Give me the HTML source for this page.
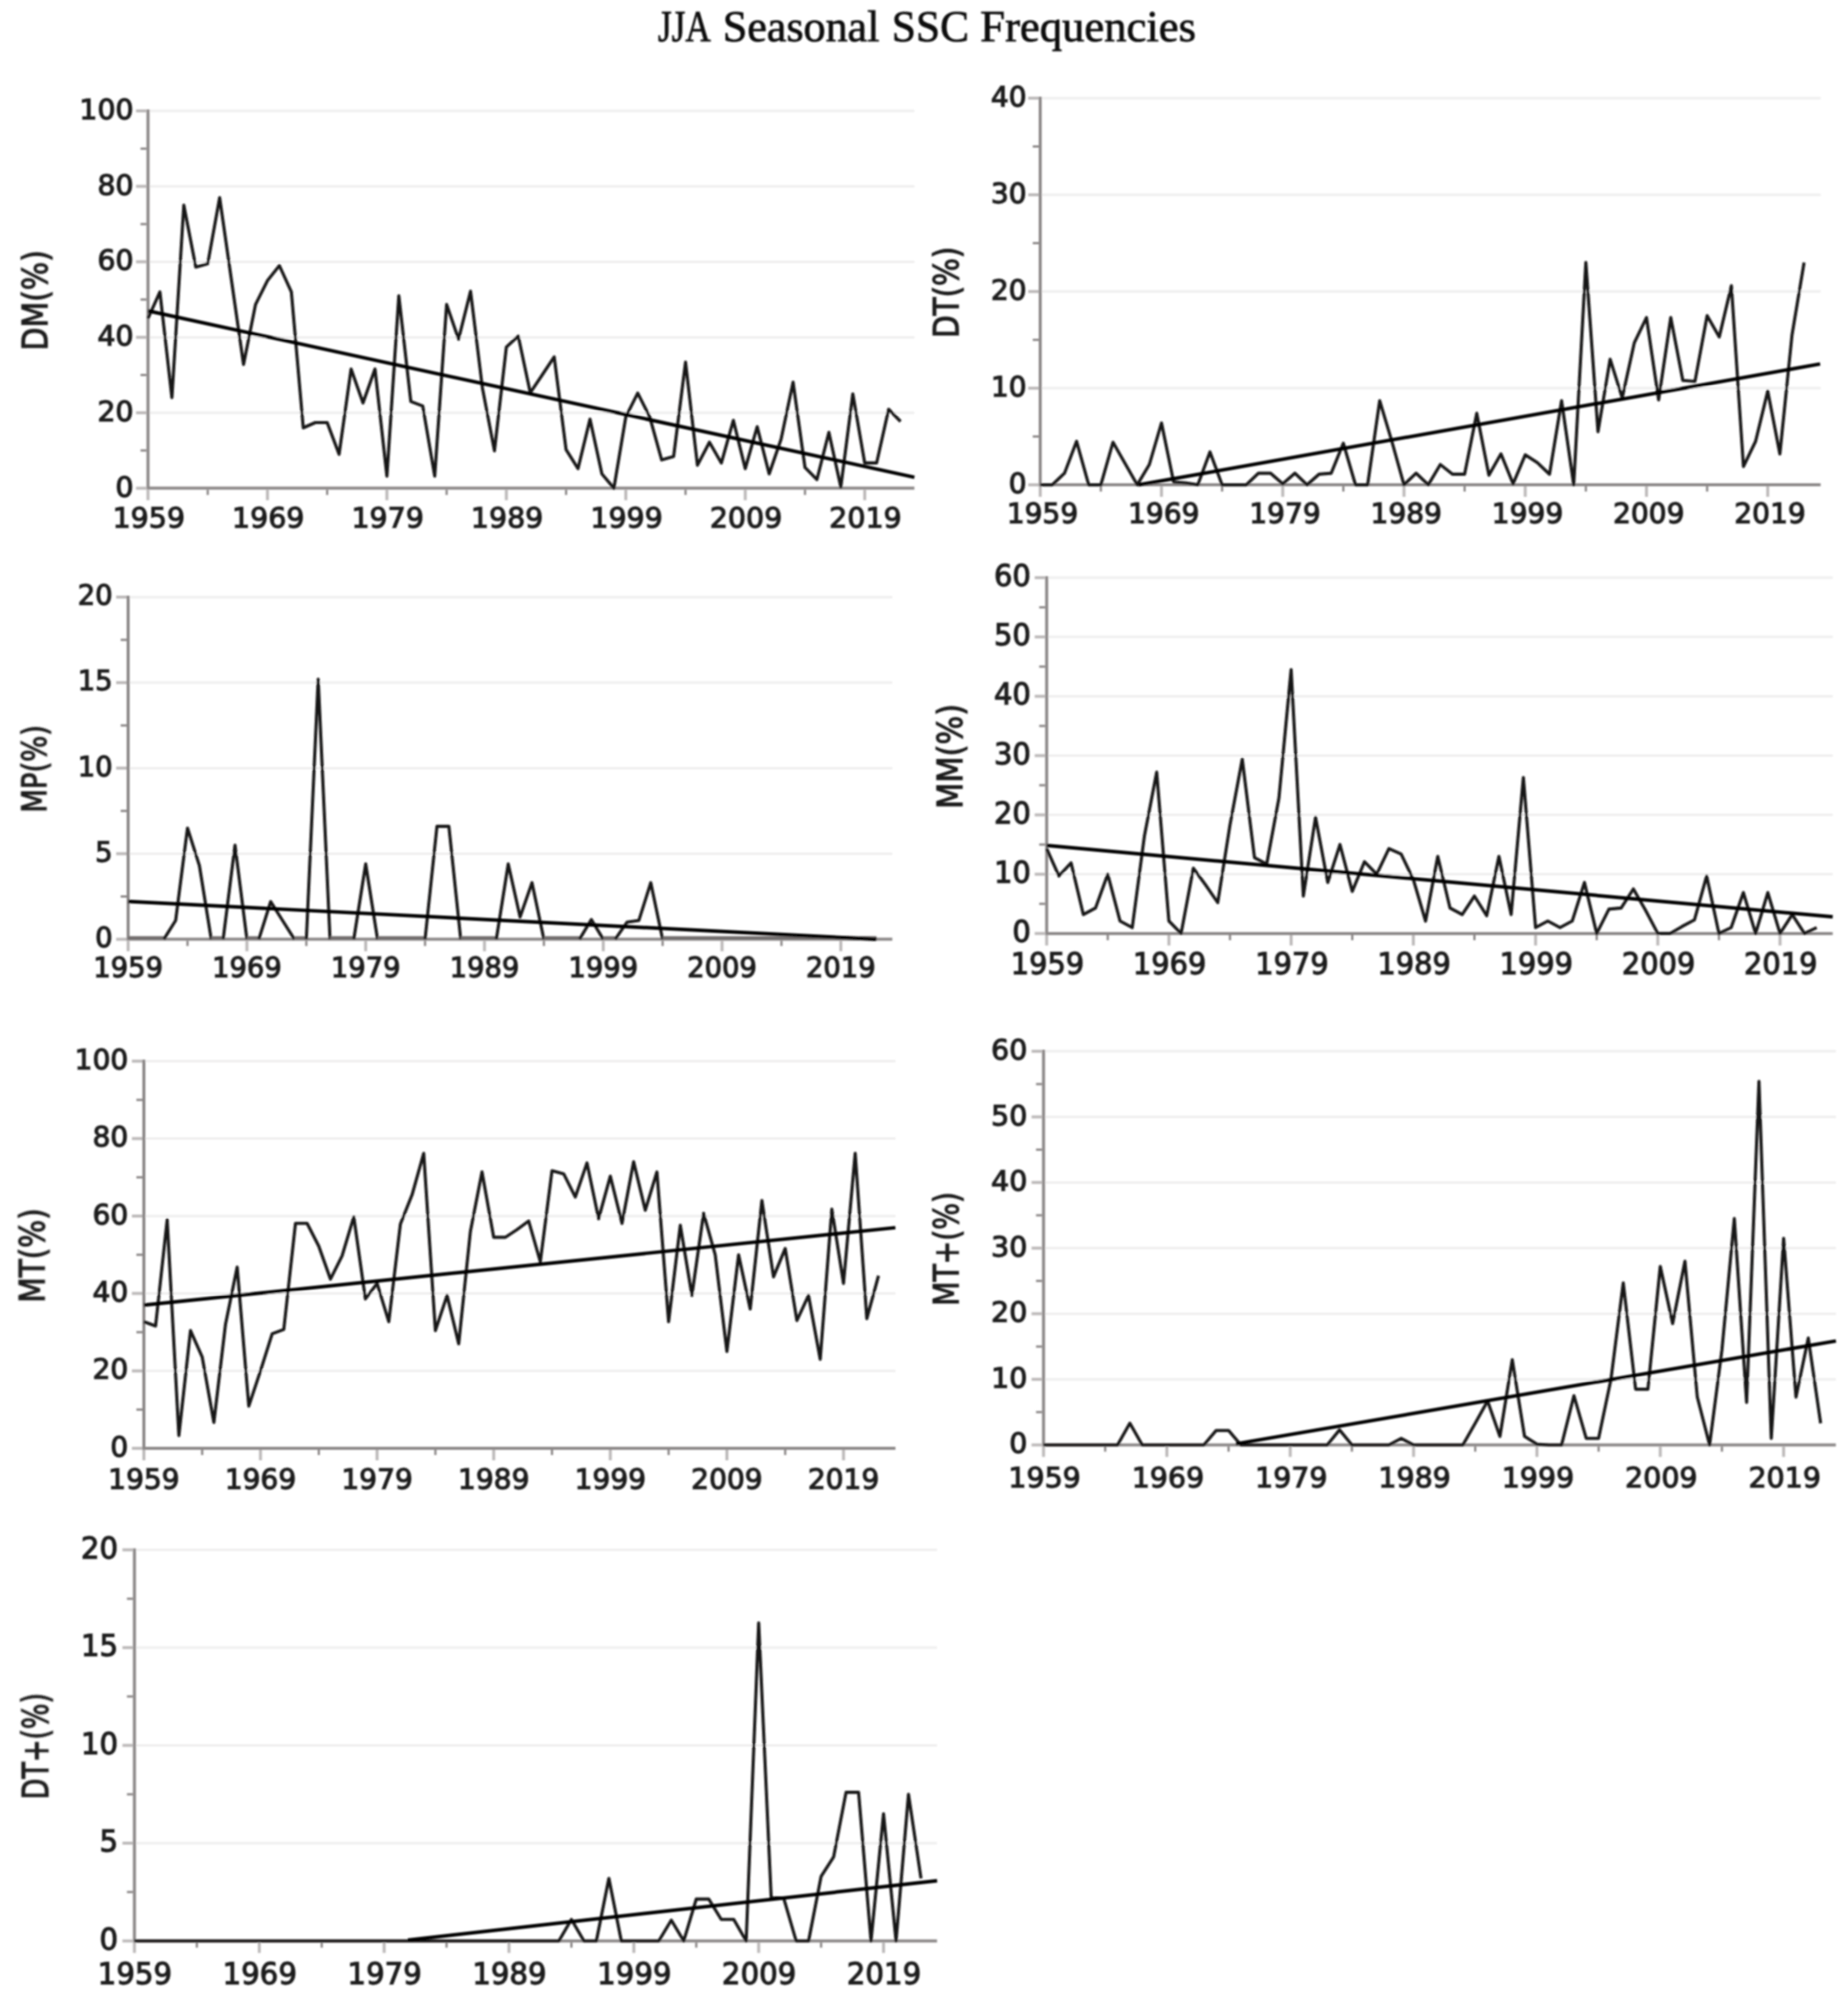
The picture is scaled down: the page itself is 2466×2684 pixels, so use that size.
<!DOCTYPE html>
<html><head><meta charset="utf-8"><title>JJA Seasonal SSC Frequencies</title>
<style>
html,body{margin:0;padding:0;background:#fff;}
body{width:2466px;height:2684px;overflow:hidden;}
svg{display:block;}
.t{font-family:"DejaVu Sans","Liberation Sans",sans-serif;font-size:38px;fill:#1c1c1c;stroke:#1c1c1c;stroke-width:1.4px;}
.ttl{font-family:"Liberation Serif","DejaVu Serif",serif;font-size:60px;fill:#111;stroke:#111;stroke-width:1px;}
.ax{stroke:#8b8787;stroke-width:4;fill:none;}
.tk{stroke:#8b8787;stroke-width:3;fill:none;}
.tM{stroke:#bdbaba;stroke-width:4;fill:none;}
.g{stroke:#eeeded;stroke-width:3;fill:none;}
.d{stroke:#141212;stroke-width:4.1;fill:none;stroke-linejoin:round;}
.tr{stroke:#050505;stroke-width:4.7;fill:none;}
</style></head><body>
<svg width="2466" height="2684" viewBox="0 0 2466 2684">
<defs><filter id="soft" x="0" y="0" width="2466" height="2684" filterUnits="userSpaceOnUse"><feGaussianBlur stdDeviation="1.1"/></filter></defs>
<rect width="2466" height="2684" fill="#fff"/>
<g filter="url(#soft)">
<text class="ttl" y="54.5"><tspan x="878" textLength="68" lengthAdjust="spacingAndGlyphs">JJA</tspan> <tspan x="964.5" textLength="209" lengthAdjust="spacingAndGlyphs">Seasonal</tspan> <tspan x="1190" textLength="103" lengthAdjust="spacingAndGlyphs">SSC</tspan> <tspan x="1308" textLength="288" lengthAdjust="spacingAndGlyphs">Frequencies</tspan></text>

<g><!-- DM(%) -->
<line class="g" x1="199.5" y1="550.9" x2="1220.2" y2="550.9"/>
<line class="g" x1="199.5" y1="450.2" x2="1220.2" y2="450.2"/>
<line class="g" x1="199.5" y1="349.4" x2="1220.2" y2="349.4"/>
<line class="g" x1="199.5" y1="248.7" x2="1220.2" y2="248.7"/>
<line class="g" x1="199.5" y1="148.0" x2="1220.2" y2="148.0"/>
<path class="ax" d="M197.5 146.0V651.6H1220.2"/>
<line class="tM" x1="181.5" y1="651.6" x2="195.5" y2="651.6"/>
<text class="t" style="font-size:38px" x="178.3" y="662.5" text-anchor="end">0</text>
<line class="tk" x1="187.5" y1="601.2" x2="195.5" y2="601.2"/>
<line class="tM" x1="181.5" y1="550.9" x2="195.5" y2="550.9"/>
<text class="t" style="font-size:38px" x="178.3" y="561.7" text-anchor="end">20</text>
<line class="tk" x1="187.5" y1="500.5" x2="195.5" y2="500.5"/>
<line class="tM" x1="181.5" y1="450.2" x2="195.5" y2="450.2"/>
<text class="t" style="font-size:38px" x="178.3" y="461.0" text-anchor="end">40</text>
<line class="tk" x1="187.5" y1="399.8" x2="195.5" y2="399.8"/>
<line class="tM" x1="181.5" y1="349.4" x2="195.5" y2="349.4"/>
<text class="t" style="font-size:38px" x="178.3" y="360.3" text-anchor="end">60</text>
<line class="tk" x1="187.5" y1="299.1" x2="195.5" y2="299.1"/>
<line class="tM" x1="181.5" y1="248.7" x2="195.5" y2="248.7"/>
<text class="t" style="font-size:38px" x="178.3" y="259.6" text-anchor="end">80</text>
<line class="tk" x1="187.5" y1="198.4" x2="195.5" y2="198.4"/>
<line class="tM" x1="181.5" y1="148.0" x2="195.5" y2="148.0"/>
<text class="t" style="font-size:38px" x="178.3" y="158.9" text-anchor="end">100</text>
<line class="tM" x1="197.5" y1="653.6" x2="197.5" y2="667.6"/>
<text class="t" style="font-size:38px" x="198.5" y="704.2" text-anchor="middle">1959</text>
<line class="tk" x1="277.2" y1="653.6" x2="277.2" y2="660.6"/>
<line class="tM" x1="356.9" y1="653.6" x2="356.9" y2="667.6"/>
<text class="t" style="font-size:38px" x="357.9" y="704.2" text-anchor="middle">1969</text>
<line class="tk" x1="436.6" y1="653.6" x2="436.6" y2="660.6"/>
<line class="tM" x1="516.3" y1="653.6" x2="516.3" y2="667.6"/>
<text class="t" style="font-size:38px" x="517.3" y="704.2" text-anchor="middle">1979</text>
<line class="tk" x1="596.0" y1="653.6" x2="596.0" y2="660.6"/>
<line class="tM" x1="675.7" y1="653.6" x2="675.7" y2="667.6"/>
<text class="t" style="font-size:38px" x="676.7" y="704.2" text-anchor="middle">1989</text>
<line class="tk" x1="755.4" y1="653.6" x2="755.4" y2="660.6"/>
<line class="tM" x1="835.1" y1="653.6" x2="835.1" y2="667.6"/>
<text class="t" style="font-size:38px" x="836.1" y="704.2" text-anchor="middle">1999</text>
<line class="tk" x1="914.8" y1="653.6" x2="914.8" y2="660.6"/>
<line class="tM" x1="994.5" y1="653.6" x2="994.5" y2="667.6"/>
<text class="t" style="font-size:38px" x="995.5" y="704.2" text-anchor="middle">2009</text>
<line class="tk" x1="1074.2" y1="653.6" x2="1074.2" y2="660.6"/>
<line class="tM" x1="1153.9" y1="653.6" x2="1153.9" y2="667.6"/>
<text class="t" style="font-size:38px" x="1154.9" y="704.2" text-anchor="middle">2019</text>
<text class="t" style="font-size:46.0px" transform="translate(63.1 400.8) rotate(-90)" text-anchor="middle" textLength="134" lengthAdjust="spacingAndGlyphs">DM(%)</text>
<polyline class="d" points="197.5,425.0 213.4,389.7 229.4,530.7 245.3,273.9 261.3,356.5 277.2,352.0 293.1,263.8 309.1,375.6 325.0,486.4 341.0,406.3 356.9,374.6 372.8,354.5 388.8,389.7 404.7,571.0 420.7,564.0 436.6,564.0 452.5,606.3 468.5,492.5 484.4,537.8 500.4,492.5 516.3,635.5 532.2,394.8 548.2,535.8 564.1,541.8 580.1,635.5 596.0,406.3 611.9,452.7 627.9,388.7 643.8,518.1 659.8,601.7 675.7,463.3 691.6,448.6 707.6,524.2 723.5,500.5 739.5,476.3 755.4,600.2 771.3,625.4 787.3,559.4 803.2,632.5 819.2,651.6 835.1,556.4 851.0,524.7 867.0,556.4 882.9,613.8 898.9,609.3 914.8,483.4 930.7,620.9 946.7,590.2 962.6,617.9 978.6,561.0 994.5,625.4 1010.4,569.5 1026.4,632.5 1042.3,586.1 1058.3,510.1 1074.2,623.9 1090.1,640.0 1106.1,577.1 1122.0,650.1 1138.0,525.7 1153.9,617.9 1169.8,617.9 1185.8,546.3 1201.7,562.5"/>
<line class="tr" x1="197.5" y1="414.9" x2="1220.2" y2="637.0"/>
</g>
<g><!-- DT(%) -->
<line class="g" x1="1390.1" y1="518.1" x2="2429.5" y2="518.1"/>
<line class="g" x1="1390.1" y1="389.1" x2="2429.5" y2="389.1"/>
<line class="g" x1="1390.1" y1="260.0" x2="2429.5" y2="260.0"/>
<line class="g" x1="1390.1" y1="131.0" x2="2429.5" y2="131.0"/>
<path class="ax" d="M1388.1 129.0V647.1H2429.5"/>
<line class="tM" x1="1372.1" y1="647.1" x2="1386.1" y2="647.1"/>
<text class="t" style="font-size:37.5px" x="1369.9" y="657.8" text-anchor="end">0</text>
<line class="tk" x1="1378.1" y1="582.6" x2="1386.1" y2="582.6"/>
<line class="tM" x1="1372.1" y1="518.1" x2="1386.1" y2="518.1"/>
<text class="t" style="font-size:37.5px" x="1369.9" y="528.7" text-anchor="end">10</text>
<line class="tk" x1="1378.1" y1="453.6" x2="1386.1" y2="453.6"/>
<line class="tM" x1="1372.1" y1="389.1" x2="1386.1" y2="389.1"/>
<text class="t" style="font-size:37.5px" x="1369.9" y="399.7" text-anchor="end">20</text>
<line class="tk" x1="1378.1" y1="324.5" x2="1386.1" y2="324.5"/>
<line class="tM" x1="1372.1" y1="260.0" x2="1386.1" y2="260.0"/>
<text class="t" style="font-size:37.5px" x="1369.9" y="270.7" text-anchor="end">30</text>
<line class="tk" x1="1378.1" y1="195.5" x2="1386.1" y2="195.5"/>
<line class="tM" x1="1372.1" y1="131.0" x2="1386.1" y2="131.0"/>
<text class="t" style="font-size:37.5px" x="1369.9" y="141.7" text-anchor="end">40</text>
<line class="tM" x1="1388.1" y1="649.1" x2="1388.1" y2="663.1"/>
<text class="t" style="font-size:37.5px" x="1391.1" y="698.1" text-anchor="middle">1959</text>
<line class="tk" x1="1469.0" y1="649.1" x2="1469.0" y2="656.1"/>
<line class="tM" x1="1549.9" y1="649.1" x2="1549.9" y2="663.1"/>
<text class="t" style="font-size:37.5px" x="1552.9" y="698.1" text-anchor="middle">1969</text>
<line class="tk" x1="1630.8" y1="649.1" x2="1630.8" y2="656.1"/>
<line class="tM" x1="1711.7" y1="649.1" x2="1711.7" y2="663.1"/>
<text class="t" style="font-size:37.5px" x="1714.7" y="698.1" text-anchor="middle">1979</text>
<line class="tk" x1="1792.6" y1="649.1" x2="1792.6" y2="656.1"/>
<line class="tM" x1="1873.5" y1="649.1" x2="1873.5" y2="663.1"/>
<text class="t" style="font-size:37.5px" x="1876.5" y="698.1" text-anchor="middle">1989</text>
<line class="tk" x1="1954.4" y1="649.1" x2="1954.4" y2="656.1"/>
<line class="tM" x1="2035.3" y1="649.1" x2="2035.3" y2="663.1"/>
<text class="t" style="font-size:37.5px" x="2038.3" y="698.1" text-anchor="middle">1999</text>
<line class="tk" x1="2116.2" y1="649.1" x2="2116.2" y2="656.1"/>
<line class="tM" x1="2197.1" y1="649.1" x2="2197.1" y2="663.1"/>
<text class="t" style="font-size:37.5px" x="2200.1" y="698.1" text-anchor="middle">2009</text>
<line class="tk" x1="2278.0" y1="649.1" x2="2278.0" y2="656.1"/>
<line class="tM" x1="2358.9" y1="649.1" x2="2358.9" y2="663.1"/>
<text class="t" style="font-size:37.5px" x="2361.9" y="698.1" text-anchor="middle">2019</text>
<text class="t" style="font-size:45.4px" transform="translate(1279.2 390.1) rotate(-90)" text-anchor="middle" textLength="122" lengthAdjust="spacingAndGlyphs">DT(%)</text>
<polyline class="d" points="1388.1,647.1 1404.3,647.1 1420.5,631.6 1436.6,589.0 1452.8,647.1 1469.0,647.1 1485.2,590.3 1501.4,618.7 1517.5,647.1 1533.7,620.0 1549.9,564.5 1566.1,643.2 1582.3,644.5 1598.4,647.1 1614.6,603.2 1630.8,647.1 1647.0,647.1 1663.2,647.1 1679.3,631.6 1695.5,631.6 1711.7,645.8 1727.9,631.6 1744.1,647.1 1760.2,632.9 1776.4,631.6 1792.6,591.6 1808.8,647.1 1825.0,647.1 1841.1,534.8 1857.3,589.0 1873.5,647.1 1889.7,631.6 1905.9,647.1 1922.0,620.0 1938.2,632.9 1954.4,632.9 1970.6,551.6 1986.8,634.2 2002.9,605.8 2019.1,645.8 2035.3,607.1 2051.5,617.4 2067.7,632.9 2083.8,534.8 2100.0,647.1 2116.2,350.3 2132.4,576.1 2148.6,479.4 2164.7,531.0 2180.9,457.4 2197.1,423.9 2213.3,533.6 2229.5,423.9 2245.6,507.8 2261.8,509.0 2278.0,421.3 2294.2,449.7 2310.4,381.3 2326.5,622.6 2342.7,589.0 2358.9,521.9 2375.1,605.8 2391.3,447.1 2407.4,350.3"/>
<line class="tr" x1="1519.2" y1="647.1" x2="2428.8" y2="485.8"/>
</g>
<g><!-- MP(%) -->
<line class="g" x1="173.0" y1="1139.4" x2="1190.7" y2="1139.4"/>
<line class="g" x1="173.0" y1="1025.2" x2="1190.7" y2="1025.2"/>
<line class="g" x1="173.0" y1="911.1" x2="1190.7" y2="911.1"/>
<line class="g" x1="173.0" y1="796.9" x2="1190.7" y2="796.9"/>
<path class="ax" d="M171.0 794.9V1253.6H1190.7"/>
<line class="tM" x1="155.0" y1="1253.6" x2="169.0" y2="1253.6"/>
<text class="t" style="font-size:36.5px" x="150.2" y="1263.9" text-anchor="end">0</text>
<line class="tk" x1="161.0" y1="1196.5" x2="169.0" y2="1196.5"/>
<line class="tM" x1="155.0" y1="1139.4" x2="169.0" y2="1139.4"/>
<text class="t" style="font-size:36.5px" x="150.2" y="1149.7" text-anchor="end">5</text>
<line class="tk" x1="161.0" y1="1082.3" x2="169.0" y2="1082.3"/>
<line class="tM" x1="155.0" y1="1025.2" x2="169.0" y2="1025.2"/>
<text class="t" style="font-size:36.5px" x="150.2" y="1035.6" text-anchor="end">10</text>
<line class="tk" x1="161.0" y1="968.2" x2="169.0" y2="968.2"/>
<line class="tM" x1="155.0" y1="911.1" x2="169.0" y2="911.1"/>
<text class="t" style="font-size:36.5px" x="150.2" y="921.4" text-anchor="end">15</text>
<line class="tk" x1="161.0" y1="854.0" x2="169.0" y2="854.0"/>
<line class="tM" x1="155.0" y1="796.9" x2="169.0" y2="796.9"/>
<text class="t" style="font-size:36.5px" x="150.2" y="807.2" text-anchor="end">20</text>
<line class="tM" x1="171.0" y1="1255.6" x2="171.0" y2="1269.6"/>
<text class="t" style="font-size:36.5px" x="171.0" y="1304.1" text-anchor="middle">1959</text>
<line class="tk" x1="250.2" y1="1255.6" x2="250.2" y2="1262.6"/>
<line class="tM" x1="329.5" y1="1255.6" x2="329.5" y2="1269.6"/>
<text class="t" style="font-size:36.5px" x="329.5" y="1304.1" text-anchor="middle">1969</text>
<line class="tk" x1="408.8" y1="1255.6" x2="408.8" y2="1262.6"/>
<line class="tM" x1="488.0" y1="1255.6" x2="488.0" y2="1269.6"/>
<text class="t" style="font-size:36.5px" x="488.0" y="1304.1" text-anchor="middle">1979</text>
<line class="tk" x1="567.2" y1="1255.6" x2="567.2" y2="1262.6"/>
<line class="tM" x1="646.5" y1="1255.6" x2="646.5" y2="1269.6"/>
<text class="t" style="font-size:36.5px" x="646.5" y="1304.1" text-anchor="middle">1989</text>
<line class="tk" x1="725.8" y1="1255.6" x2="725.8" y2="1262.6"/>
<line class="tM" x1="805.0" y1="1255.6" x2="805.0" y2="1269.6"/>
<text class="t" style="font-size:36.5px" x="805.0" y="1304.1" text-anchor="middle">1999</text>
<line class="tk" x1="884.2" y1="1255.6" x2="884.2" y2="1262.6"/>
<line class="tM" x1="963.5" y1="1255.6" x2="963.5" y2="1269.6"/>
<text class="t" style="font-size:36.5px" x="963.5" y="1304.1" text-anchor="middle">2009</text>
<line class="tk" x1="1042.8" y1="1255.6" x2="1042.8" y2="1262.6"/>
<line class="tM" x1="1122.0" y1="1255.6" x2="1122.0" y2="1269.6"/>
<text class="t" style="font-size:36.5px" x="1122.0" y="1304.1" text-anchor="middle">2019</text>
<text class="t" style="font-size:44.2px" transform="translate(61.6 1026.2) rotate(-90)" text-anchor="middle" textLength="117" lengthAdjust="spacingAndGlyphs">MP(%)</text>
<polyline class="d" style="stroke:#6f6b6b;stroke-linecap:butt" points="171.0,1251.6 186.8,1251.6 202.7,1251.6 218.6,1251.6"/>
<polyline class="d" points="218.6,1253.6 234.4,1228.5 250.2,1105.2 266.1,1155.4 281.9,1253.6"/>
<polyline class="d" style="stroke:#6f6b6b;stroke-linecap:butt" points="281.9,1251.6 297.8,1251.6"/>
<polyline class="d" points="297.8,1253.6 313.6,1128.0 329.5,1253.6"/>
<polyline class="d" style="stroke:#6f6b6b;stroke-linecap:butt" points="329.5,1251.6 345.4,1251.6"/>
<polyline class="d" points="345.4,1253.6 361.2,1203.4 377.0,1228.5 392.9,1253.6"/>
<polyline class="d" style="stroke:#6f6b6b;stroke-linecap:butt" points="392.9,1251.6 408.8,1251.6"/>
<polyline class="d" points="408.8,1253.6 424.6,906.5 440.4,1253.6"/>
<polyline class="d" style="stroke:#6f6b6b;stroke-linecap:butt" points="440.4,1251.6 456.3,1251.6 472.1,1251.6"/>
<polyline class="d" points="472.1,1253.6 488.0,1153.1 503.8,1253.6"/>
<polyline class="d" style="stroke:#6f6b6b;stroke-linecap:butt" points="503.8,1251.6 519.7,1251.6 535.5,1251.6 551.4,1251.6 567.2,1251.6"/>
<polyline class="d" points="567.2,1253.6 583.1,1102.9 599.0,1102.9 614.8,1253.6"/>
<polyline class="d" style="stroke:#6f6b6b;stroke-linecap:butt" points="614.8,1251.6 630.6,1251.6 646.5,1251.6 662.3,1251.6"/>
<polyline class="d" points="662.3,1253.6 678.2,1153.1 694.0,1223.9 709.9,1178.2 725.8,1253.6"/>
<polyline class="d" style="stroke:#6f6b6b;stroke-linecap:butt" points="725.8,1251.6 741.6,1251.6 757.4,1251.6 773.3,1251.6"/>
<polyline class="d" points="773.3,1253.6 789.1,1227.3 805.0,1253.6"/>
<polyline class="d" style="stroke:#6f6b6b;stroke-linecap:butt" points="805.0,1251.6 820.9,1251.6"/>
<polyline class="d" points="820.9,1253.6 836.7,1230.8 852.5,1228.5 868.4,1178.2 884.2,1253.6"/>
<polyline class="d" style="stroke:#6f6b6b;stroke-linecap:butt" points="884.2,1251.6 900.1,1251.6 915.9,1251.6 931.8,1251.6 947.6,1251.6 963.5,1251.6 979.4,1251.6 995.2,1251.6 1011.0,1251.6 1026.9,1251.6 1042.8,1251.6 1058.6,1251.6 1074.4,1251.6 1090.3,1251.6 1106.2,1251.6 1122.0,1251.6 1137.8,1251.6 1153.7,1251.6 1169.5,1251.6"/>
<line class="tr" x1="171.0" y1="1203.1" x2="1169.5" y2="1253.6"/>
</g>
<g><!-- MM(%) -->
<line class="g" x1="1398.7" y1="1166.8" x2="2445.6" y2="1166.8"/>
<line class="g" x1="1398.7" y1="1087.6" x2="2445.6" y2="1087.6"/>
<line class="g" x1="1398.7" y1="1008.5" x2="2445.6" y2="1008.5"/>
<line class="g" x1="1398.7" y1="929.3" x2="2445.6" y2="929.3"/>
<line class="g" x1="1398.7" y1="850.1" x2="2445.6" y2="850.1"/>
<line class="g" x1="1398.7" y1="771.0" x2="2445.6" y2="771.0"/>
<path class="ax" d="M1396.7 769.0V1245.9H2445.6"/>
<line class="tM" x1="1380.7" y1="1245.9" x2="1394.7" y2="1245.9"/>
<text class="t" style="font-size:38.5px" x="1375.6" y="1256.9" text-anchor="end">0</text>
<line class="tk" x1="1386.7" y1="1206.3" x2="1394.7" y2="1206.3"/>
<line class="tM" x1="1380.7" y1="1166.8" x2="1394.7" y2="1166.8"/>
<text class="t" style="font-size:38.5px" x="1375.6" y="1177.8" text-anchor="end">10</text>
<line class="tk" x1="1386.7" y1="1127.2" x2="1394.7" y2="1127.2"/>
<line class="tM" x1="1380.7" y1="1087.6" x2="1394.7" y2="1087.6"/>
<text class="t" style="font-size:38.5px" x="1375.6" y="1098.6" text-anchor="end">20</text>
<line class="tk" x1="1386.7" y1="1048.0" x2="1394.7" y2="1048.0"/>
<line class="tM" x1="1380.7" y1="1008.5" x2="1394.7" y2="1008.5"/>
<text class="t" style="font-size:38.5px" x="1375.6" y="1019.5" text-anchor="end">30</text>
<line class="tk" x1="1386.7" y1="968.9" x2="1394.7" y2="968.9"/>
<line class="tM" x1="1380.7" y1="929.3" x2="1394.7" y2="929.3"/>
<text class="t" style="font-size:38.5px" x="1375.6" y="940.3" text-anchor="end">40</text>
<line class="tk" x1="1386.7" y1="889.7" x2="1394.7" y2="889.7"/>
<line class="tM" x1="1380.7" y1="850.1" x2="1394.7" y2="850.1"/>
<text class="t" style="font-size:38.5px" x="1375.6" y="861.2" text-anchor="end">50</text>
<line class="tk" x1="1386.7" y1="810.6" x2="1394.7" y2="810.6"/>
<line class="tM" x1="1380.7" y1="771.0" x2="1394.7" y2="771.0"/>
<text class="t" style="font-size:38.5px" x="1375.6" y="782.0" text-anchor="end">60</text>
<line class="tM" x1="1396.7" y1="1247.9" x2="1396.7" y2="1261.9"/>
<text class="t" style="font-size:38.5px" x="1397.7" y="1299.5" text-anchor="middle">1959</text>
<line class="tk" x1="1478.2" y1="1247.9" x2="1478.2" y2="1254.9"/>
<line class="tM" x1="1559.8" y1="1247.9" x2="1559.8" y2="1261.9"/>
<text class="t" style="font-size:38.5px" x="1560.8" y="1299.5" text-anchor="middle">1969</text>
<line class="tk" x1="1641.3" y1="1247.9" x2="1641.3" y2="1254.9"/>
<line class="tM" x1="1722.9" y1="1247.9" x2="1722.9" y2="1261.9"/>
<text class="t" style="font-size:38.5px" x="1723.9" y="1299.5" text-anchor="middle">1979</text>
<line class="tk" x1="1804.5" y1="1247.9" x2="1804.5" y2="1254.9"/>
<line class="tM" x1="1886.0" y1="1247.9" x2="1886.0" y2="1261.9"/>
<text class="t" style="font-size:38.5px" x="1887.0" y="1299.5" text-anchor="middle">1989</text>
<line class="tk" x1="1967.5" y1="1247.9" x2="1967.5" y2="1254.9"/>
<line class="tM" x1="2049.1" y1="1247.9" x2="2049.1" y2="1261.9"/>
<text class="t" style="font-size:38.5px" x="2050.1" y="1299.5" text-anchor="middle">1999</text>
<line class="tk" x1="2130.7" y1="1247.9" x2="2130.7" y2="1254.9"/>
<line class="tM" x1="2212.2" y1="1247.9" x2="2212.2" y2="1261.9"/>
<text class="t" style="font-size:38.5px" x="2213.2" y="1299.5" text-anchor="middle">2009</text>
<line class="tk" x1="2293.8" y1="1247.9" x2="2293.8" y2="1254.9"/>
<line class="tM" x1="2375.3" y1="1247.9" x2="2375.3" y2="1261.9"/>
<text class="t" style="font-size:38.5px" x="2376.3" y="1299.5" text-anchor="middle">2019</text>
<text class="t" style="font-size:46.6px" transform="translate(1283.8 1009.5) rotate(-90)" text-anchor="middle" textLength="140" lengthAdjust="spacingAndGlyphs">MM(%)</text>
<polyline class="d" points="1396.7,1132.7 1413.0,1169.1 1429.3,1151.7 1445.6,1220.6 1461.9,1211.9 1478.2,1166.8 1494.6,1229.3 1510.9,1238.0 1527.2,1115.3 1543.5,1030.6 1559.8,1229.3 1576.1,1245.9 1592.4,1158.8 1608.7,1181.0 1625.0,1204.7 1641.3,1101.1 1657.7,1013.2 1674.0,1144.6 1690.3,1153.3 1706.6,1065.4 1722.9,893.7 1739.2,1196.0 1755.5,1090.8 1771.8,1177.8 1788.1,1127.2 1804.5,1189.7 1820.8,1150.1 1837.1,1166.8 1853.4,1132.7 1869.7,1139.8 1886.0,1173.9 1902.3,1229.3 1918.6,1143.0 1934.9,1211.9 1951.2,1220.6 1967.5,1196.0 1983.9,1222.2 2000.2,1143.0 2016.5,1220.6 2032.8,1037.7 2049.1,1238.0 2065.4,1229.3 2081.7,1238.0 2098.0,1229.3 2114.3,1177.8 2130.7,1245.9 2147.0,1213.4 2163.3,1211.9 2179.6,1186.5 2195.9,1215.0 2212.2,1245.9 2228.5,1245.9 2244.8,1236.4 2261.1,1227.7 2277.4,1169.1 2293.8,1245.9 2310.1,1238.0 2326.4,1191.3 2342.7,1245.9 2359.0,1191.3 2375.3,1245.9 2391.6,1220.6 2407.9,1245.9 2424.2,1238.0"/>
<line class="tr" x1="1396.7" y1="1128.4" x2="2445.6" y2="1223.7"/>
</g>
<g><!-- MT(%) -->
<line class="g" x1="194.0" y1="1829.7" x2="1194.9" y2="1829.7"/>
<line class="g" x1="194.0" y1="1726.3" x2="1194.9" y2="1726.3"/>
<line class="g" x1="194.0" y1="1623.0" x2="1194.9" y2="1623.0"/>
<line class="g" x1="194.0" y1="1519.6" x2="1194.9" y2="1519.6"/>
<line class="g" x1="194.0" y1="1416.3" x2="1194.9" y2="1416.3"/>
<path class="ax" d="M192.0 1414.3V1933.0H1194.9"/>
<line class="tM" x1="176.0" y1="1933.0" x2="190.0" y2="1933.0"/>
<text class="t" style="font-size:37.5px" x="171.2" y="1943.7" text-anchor="end">0</text>
<line class="tk" x1="182.0" y1="1881.3" x2="190.0" y2="1881.3"/>
<line class="tM" x1="176.0" y1="1829.7" x2="190.0" y2="1829.7"/>
<text class="t" style="font-size:37.5px" x="171.2" y="1840.3" text-anchor="end">20</text>
<line class="tk" x1="182.0" y1="1778.0" x2="190.0" y2="1778.0"/>
<line class="tM" x1="176.0" y1="1726.3" x2="190.0" y2="1726.3"/>
<text class="t" style="font-size:37.5px" x="171.2" y="1737.0" text-anchor="end">40</text>
<line class="tk" x1="182.0" y1="1674.7" x2="190.0" y2="1674.7"/>
<line class="tM" x1="176.0" y1="1623.0" x2="190.0" y2="1623.0"/>
<text class="t" style="font-size:37.5px" x="171.2" y="1633.6" text-anchor="end">60</text>
<line class="tk" x1="182.0" y1="1571.3" x2="190.0" y2="1571.3"/>
<line class="tM" x1="176.0" y1="1519.6" x2="190.0" y2="1519.6"/>
<text class="t" style="font-size:37.5px" x="171.2" y="1530.3" text-anchor="end">80</text>
<line class="tk" x1="182.0" y1="1468.0" x2="190.0" y2="1468.0"/>
<line class="tM" x1="176.0" y1="1416.3" x2="190.0" y2="1416.3"/>
<text class="t" style="font-size:37.5px" x="171.2" y="1427.0" text-anchor="end">100</text>
<line class="tM" x1="192.0" y1="1935.0" x2="192.0" y2="1949.0"/>
<text class="t" style="font-size:37.5px" x="192.0" y="1987.3" text-anchor="middle">1959</text>
<line class="tk" x1="269.8" y1="1935.0" x2="269.8" y2="1942.0"/>
<line class="tM" x1="347.6" y1="1935.0" x2="347.6" y2="1949.0"/>
<text class="t" style="font-size:37.5px" x="347.6" y="1987.3" text-anchor="middle">1969</text>
<line class="tk" x1="425.4" y1="1935.0" x2="425.4" y2="1942.0"/>
<line class="tM" x1="503.2" y1="1935.0" x2="503.2" y2="1949.0"/>
<text class="t" style="font-size:37.5px" x="503.2" y="1987.3" text-anchor="middle">1979</text>
<line class="tk" x1="581.0" y1="1935.0" x2="581.0" y2="1942.0"/>
<line class="tM" x1="658.8" y1="1935.0" x2="658.8" y2="1949.0"/>
<text class="t" style="font-size:37.5px" x="658.8" y="1987.3" text-anchor="middle">1989</text>
<line class="tk" x1="736.6" y1="1935.0" x2="736.6" y2="1942.0"/>
<line class="tM" x1="814.4" y1="1935.0" x2="814.4" y2="1949.0"/>
<text class="t" style="font-size:37.5px" x="814.4" y="1987.3" text-anchor="middle">1999</text>
<line class="tk" x1="892.2" y1="1935.0" x2="892.2" y2="1942.0"/>
<line class="tM" x1="970.0" y1="1935.0" x2="970.0" y2="1949.0"/>
<text class="t" style="font-size:37.5px" x="970.0" y="1987.3" text-anchor="middle">2009</text>
<line class="tk" x1="1047.8" y1="1935.0" x2="1047.8" y2="1942.0"/>
<line class="tM" x1="1125.6" y1="1935.0" x2="1125.6" y2="1949.0"/>
<text class="t" style="font-size:37.5px" x="1125.6" y="1987.3" text-anchor="middle">2019</text>
<text class="t" style="font-size:45.4px" transform="translate(59.3 1675.7) rotate(-90)" text-anchor="middle" textLength="126" lengthAdjust="spacingAndGlyphs">MT(%)</text>
<polyline class="d" points="192.0,1764.0 207.6,1769.7 223.1,1628.1 238.7,1915.9 254.2,1775.9 269.8,1811.1 285.4,1898.4 300.9,1767.7 316.5,1691.2 332.0,1876.7 347.6,1829.7 363.2,1780.1 378.7,1774.4 394.3,1632.8 409.8,1632.8 425.4,1663.3 441.0,1707.2 456.5,1676.2 472.1,1624.0 487.6,1733.6 503.2,1712.9 518.8,1764.0 534.3,1633.8 549.9,1594.6 565.4,1539.3 581.0,1775.9 596.6,1728.9 612.1,1793.5 627.7,1643.6 643.2,1564.1 658.8,1651.4 674.4,1651.4 689.9,1641.1 705.5,1629.7 721.0,1684.0 736.6,1562.5 752.2,1566.7 767.7,1597.7 783.3,1552.2 798.8,1626.6 814.4,1569.8 830.0,1632.8 845.5,1550.6 861.1,1615.2 876.6,1564.1 892.2,1764.0 907.8,1635.4 923.3,1728.9 938.9,1619.4 954.4,1674.7 970.0,1803.8 985.6,1674.7 1001.1,1747.0 1016.7,1602.3 1032.2,1704.1 1047.8,1666.4 1063.4,1762.5 1078.9,1728.9 1094.5,1814.2 1110.0,1613.7 1125.6,1712.9 1141.2,1539.3 1156.7,1759.9 1172.3,1702.6"/>
<line class="tr" x1="192.0" y1="1741.8" x2="1194.8" y2="1638.5"/>
</g>
<g><!-- MT+(%) -->
<line class="g" x1="1394.5" y1="1840.9" x2="2449.8" y2="1840.9"/>
<line class="g" x1="1394.5" y1="1753.4" x2="2449.8" y2="1753.4"/>
<line class="g" x1="1394.5" y1="1665.8" x2="2449.8" y2="1665.8"/>
<line class="g" x1="1394.5" y1="1578.2" x2="2449.8" y2="1578.2"/>
<line class="g" x1="1394.5" y1="1490.7" x2="2449.8" y2="1490.7"/>
<line class="g" x1="1394.5" y1="1403.1" x2="2449.8" y2="1403.1"/>
<path class="ax" d="M1392.5 1401.1V1928.5H2449.8"/>
<line class="tM" x1="1376.5" y1="1928.5" x2="1390.5" y2="1928.5"/>
<text class="t" style="font-size:38px" x="1370.9" y="1939.4" text-anchor="end">0</text>
<line class="tk" x1="1382.5" y1="1884.7" x2="1390.5" y2="1884.7"/>
<line class="tM" x1="1376.5" y1="1840.9" x2="1390.5" y2="1840.9"/>
<text class="t" style="font-size:38px" x="1370.9" y="1851.8" text-anchor="end">10</text>
<line class="tk" x1="1382.5" y1="1797.2" x2="1390.5" y2="1797.2"/>
<line class="tM" x1="1376.5" y1="1753.4" x2="1390.5" y2="1753.4"/>
<text class="t" style="font-size:38px" x="1370.9" y="1764.2" text-anchor="end">20</text>
<line class="tk" x1="1382.5" y1="1709.6" x2="1390.5" y2="1709.6"/>
<line class="tM" x1="1376.5" y1="1665.8" x2="1390.5" y2="1665.8"/>
<text class="t" style="font-size:38px" x="1370.9" y="1676.7" text-anchor="end">30</text>
<line class="tk" x1="1382.5" y1="1622.0" x2="1390.5" y2="1622.0"/>
<line class="tM" x1="1376.5" y1="1578.2" x2="1390.5" y2="1578.2"/>
<text class="t" style="font-size:38px" x="1370.9" y="1589.1" text-anchor="end">40</text>
<line class="tk" x1="1382.5" y1="1534.4" x2="1390.5" y2="1534.4"/>
<line class="tM" x1="1376.5" y1="1490.7" x2="1390.5" y2="1490.7"/>
<text class="t" style="font-size:38px" x="1370.9" y="1501.5" text-anchor="end">50</text>
<line class="tk" x1="1382.5" y1="1446.9" x2="1390.5" y2="1446.9"/>
<line class="tM" x1="1376.5" y1="1403.1" x2="1390.5" y2="1403.1"/>
<text class="t" style="font-size:38px" x="1370.9" y="1414.0" text-anchor="end">60</text>
<line class="tM" x1="1392.5" y1="1930.5" x2="1392.5" y2="1944.5"/>
<text class="t" style="font-size:38px" x="1393.9" y="1984.8" text-anchor="middle">1959</text>
<line class="tk" x1="1474.8" y1="1930.5" x2="1474.8" y2="1937.5"/>
<line class="tM" x1="1557.1" y1="1930.5" x2="1557.1" y2="1944.5"/>
<text class="t" style="font-size:38px" x="1558.5" y="1984.8" text-anchor="middle">1969</text>
<line class="tk" x1="1639.4" y1="1930.5" x2="1639.4" y2="1937.5"/>
<line class="tM" x1="1721.7" y1="1930.5" x2="1721.7" y2="1944.5"/>
<text class="t" style="font-size:38px" x="1723.1" y="1984.8" text-anchor="middle">1979</text>
<line class="tk" x1="1804.0" y1="1930.5" x2="1804.0" y2="1937.5"/>
<line class="tM" x1="1886.3" y1="1930.5" x2="1886.3" y2="1944.5"/>
<text class="t" style="font-size:38px" x="1887.7" y="1984.8" text-anchor="middle">1989</text>
<line class="tk" x1="1968.6" y1="1930.5" x2="1968.6" y2="1937.5"/>
<line class="tM" x1="2050.9" y1="1930.5" x2="2050.9" y2="1944.5"/>
<text class="t" style="font-size:38px" x="2052.3" y="1984.8" text-anchor="middle">1999</text>
<line class="tk" x1="2133.2" y1="1930.5" x2="2133.2" y2="1937.5"/>
<line class="tM" x1="2215.5" y1="1930.5" x2="2215.5" y2="1944.5"/>
<text class="t" style="font-size:38px" x="2216.9" y="1984.8" text-anchor="middle">2009</text>
<line class="tk" x1="2297.8" y1="1930.5" x2="2297.8" y2="1937.5"/>
<line class="tM" x1="2380.1" y1="1930.5" x2="2380.1" y2="1944.5"/>
<text class="t" style="font-size:38px" x="2381.5" y="1984.8" text-anchor="middle">2019</text>
<text class="t" style="font-size:46.0px" transform="translate(1279.2 1666.8) rotate(-90)" text-anchor="middle" textLength="152" lengthAdjust="spacingAndGlyphs">MT+(%)</text>
<polyline class="d" points="1392.5,1928.5 1409.0,1928.5 1425.4,1928.5 1441.9,1928.5 1458.3,1928.5 1474.8,1928.5 1491.3,1928.5 1507.7,1899.6 1524.2,1928.5 1540.6,1928.5 1557.1,1928.5 1573.6,1928.5 1590.0,1928.5 1606.5,1928.5 1622.9,1909.2 1639.4,1909.2 1655.9,1928.5 1672.3,1928.5 1688.8,1928.5 1705.2,1928.5 1721.7,1928.5 1738.2,1928.5 1754.6,1928.5 1771.1,1928.5 1787.5,1908.4 1804.0,1928.5 1820.5,1928.5 1836.9,1928.5 1853.4,1928.5 1869.8,1919.7 1886.3,1928.5 1902.8,1928.5 1919.2,1928.5 1935.7,1928.5 1952.1,1928.5 1968.6,1899.6 1985.1,1869.8 2001.5,1917.1 2018.0,1814.7 2034.4,1917.1 2050.9,1927.6 2067.4,1928.5 2083.8,1928.5 2100.3,1862.8 2116.7,1919.7 2133.2,1919.7 2149.7,1840.9 2166.1,1712.2 2182.6,1854.1 2199.0,1854.1 2215.5,1690.3 2232.0,1766.5 2248.4,1683.3 2264.9,1864.6 2281.3,1928.5 2297.8,1801.5 2314.3,1626.4 2330.7,1871.6 2347.2,1443.4 2363.6,1919.7 2380.1,1652.7 2396.6,1864.6 2413.0,1785.8 2429.5,1899.6"/>
<line class="tr" x1="1649.3" y1="1927.0" x2="2449.9" y2="1789.7"/>
</g>
<g><!-- DT+(%) -->
<line class="g" x1="181.4" y1="2460.0" x2="1250.4" y2="2460.0"/>
<line class="g" x1="181.4" y1="2329.5" x2="1250.4" y2="2329.5"/>
<line class="g" x1="181.4" y1="2199.0" x2="1250.4" y2="2199.0"/>
<line class="g" x1="181.4" y1="2068.5" x2="1250.4" y2="2068.5"/>
<path class="ax" d="M179.4 2066.5V2590.5H1250.4"/>
<line class="tM" x1="163.4" y1="2590.5" x2="177.4" y2="2590.5"/>
<text class="t" style="font-size:39px" x="157.7" y="2601.7" text-anchor="end">0</text>
<line class="tk" x1="169.4" y1="2525.2" x2="177.4" y2="2525.2"/>
<line class="tM" x1="163.4" y1="2460.0" x2="177.4" y2="2460.0"/>
<text class="t" style="font-size:39px" x="157.7" y="2471.2" text-anchor="end">5</text>
<line class="tk" x1="169.4" y1="2394.8" x2="177.4" y2="2394.8"/>
<line class="tM" x1="163.4" y1="2329.5" x2="177.4" y2="2329.5"/>
<text class="t" style="font-size:39px" x="157.7" y="2340.7" text-anchor="end">10</text>
<line class="tk" x1="169.4" y1="2264.2" x2="177.4" y2="2264.2"/>
<line class="tM" x1="163.4" y1="2199.0" x2="177.4" y2="2199.0"/>
<text class="t" style="font-size:39px" x="157.7" y="2210.2" text-anchor="end">15</text>
<line class="tk" x1="169.4" y1="2133.8" x2="177.4" y2="2133.8"/>
<line class="tM" x1="163.4" y1="2068.5" x2="177.4" y2="2068.5"/>
<text class="t" style="font-size:39px" x="157.7" y="2079.7" text-anchor="end">20</text>
<line class="tM" x1="179.4" y1="2592.5" x2="179.4" y2="2606.5"/>
<text class="t" style="font-size:39px" x="180.0" y="2647.5" text-anchor="middle">1959</text>
<line class="tk" x1="262.7" y1="2592.5" x2="262.7" y2="2599.5"/>
<line class="tM" x1="346.0" y1="2592.5" x2="346.0" y2="2606.5"/>
<text class="t" style="font-size:39px" x="346.6" y="2647.5" text-anchor="middle">1969</text>
<line class="tk" x1="429.3" y1="2592.5" x2="429.3" y2="2599.5"/>
<line class="tM" x1="512.6" y1="2592.5" x2="512.6" y2="2606.5"/>
<text class="t" style="font-size:39px" x="513.2" y="2647.5" text-anchor="middle">1979</text>
<line class="tk" x1="595.9" y1="2592.5" x2="595.9" y2="2599.5"/>
<line class="tM" x1="679.2" y1="2592.5" x2="679.2" y2="2606.5"/>
<text class="t" style="font-size:39px" x="679.8" y="2647.5" text-anchor="middle">1989</text>
<line class="tk" x1="762.5" y1="2592.5" x2="762.5" y2="2599.5"/>
<line class="tM" x1="845.8" y1="2592.5" x2="845.8" y2="2606.5"/>
<text class="t" style="font-size:39px" x="846.4" y="2647.5" text-anchor="middle">1999</text>
<line class="tk" x1="929.1" y1="2592.5" x2="929.1" y2="2599.5"/>
<line class="tM" x1="1012.4" y1="2592.5" x2="1012.4" y2="2606.5"/>
<text class="t" style="font-size:39px" x="1013.0" y="2647.5" text-anchor="middle">2009</text>
<line class="tk" x1="1095.7" y1="2592.5" x2="1095.7" y2="2599.5"/>
<line class="tM" x1="1179.0" y1="2592.5" x2="1179.0" y2="2606.5"/>
<text class="t" style="font-size:39px" x="1179.6" y="2647.5" text-anchor="middle">2019</text>
<text class="t" style="font-size:47.2px" transform="translate(64.2 2330.5) rotate(-90)" text-anchor="middle" textLength="142" lengthAdjust="spacingAndGlyphs">DT+(%)</text>
<polyline class="d" points="179.4,2590.5 196.1,2590.5 212.7,2590.5 229.4,2590.5 246.0,2590.5 262.7,2590.5 279.4,2590.5 296.0,2590.5 312.7,2590.5 329.3,2590.5 346.0,2590.5 362.7,2590.5 379.3,2590.5 396.0,2590.5 412.6,2590.5 429.3,2590.5 446.0,2590.5 462.6,2590.5 479.3,2590.5 495.9,2590.5 512.6,2590.5 529.3,2590.5 545.9,2590.5 562.6,2590.5 579.2,2590.5 595.9,2590.5 612.6,2590.5 629.2,2590.5 645.9,2590.5 662.5,2590.5 679.2,2590.5 695.9,2590.5 712.5,2590.5 729.2,2590.5 745.8,2590.5 762.5,2561.8 779.2,2590.5 795.8,2590.5 812.5,2507.0 829.1,2590.5 845.8,2590.5 862.5,2590.5 879.1,2590.5 895.8,2562.8 912.4,2590.5 929.1,2534.6 945.8,2534.6 962.4,2561.8 979.1,2561.8 995.7,2590.5 1012.4,2166.1 1029.1,2533.1 1045.7,2533.1 1062.4,2590.5 1079.0,2590.5 1095.7,2504.4 1112.4,2478.3 1129.0,2392.1 1145.7,2392.1 1162.3,2590.5 1179.0,2420.8 1195.7,2590.5 1212.3,2394.8 1229.0,2507.0"/>
<line class="tr" x1="544.3" y1="2589.3" x2="1250.5" y2="2510.2"/>
</g>
</g></svg></body></html>
